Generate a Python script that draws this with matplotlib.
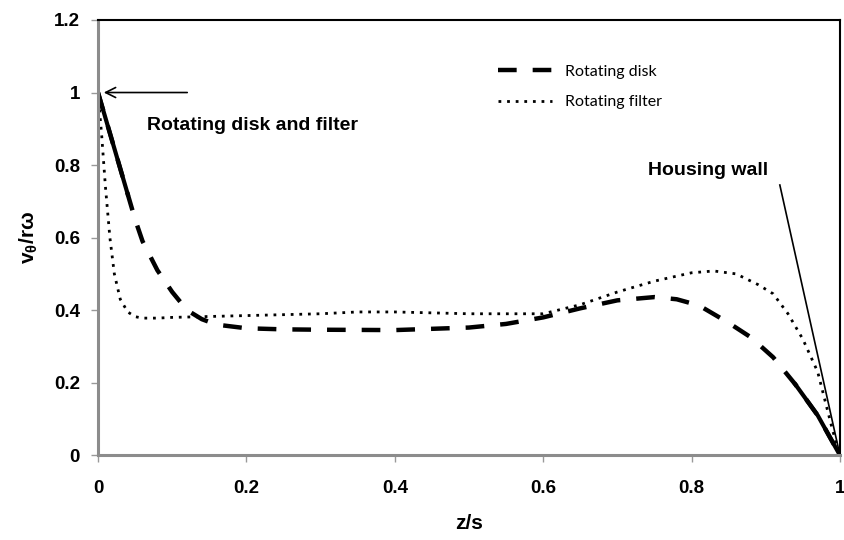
import numpy as np
import matplotlib
matplotlib.use('Agg')
import matplotlib.pyplot as plt

plt.rcParams['font.family'] = ['Liberation Sans', 'DejaVu Sans']
plt.rcParams['mathtext.default'] = 'regular'

# rotating disk (dashed)
z_disk = [0.0, 0.01, 0.02, 0.03, 0.04, 0.05, 0.06, 0.08, 0.10, 0.12, 0.14, 0.16,
          0.20, 0.25, 0.30, 0.40, 0.50, 0.55, 0.60, 0.65, 0.70, 0.75, 0.78,
          0.81, 0.85, 0.88, 0.91, 0.94, 0.97, 1.0]
v_disk = [1.0, 0.93, 0.86, 0.79, 0.72, 0.65, 0.59, 0.51, 0.45, 0.40, 0.375, 0.36,
          0.35, 0.347, 0.346, 0.345, 0.352, 0.362, 0.38, 0.405, 0.427, 0.436, 0.43,
          0.413, 0.365, 0.325, 0.27, 0.195, 0.11, 0.0]

# rotating filter (dotted)
z_filt = [0.0, 0.005, 0.01, 0.016, 0.022, 0.03, 0.04, 0.05, 0.06, 0.08, 0.10,
          0.20, 0.30, 0.35, 0.40, 0.50, 0.60, 0.65, 0.70, 0.75, 0.80, 0.83,
          0.86, 0.89, 0.91, 0.93, 0.95, 0.97, 0.99, 1.0]
v_filt = [1.0, 0.88, 0.74, 0.60, 0.50, 0.43, 0.395, 0.382, 0.378, 0.378, 0.38,
          0.385, 0.39, 0.395, 0.395, 0.39, 0.39, 0.415, 0.45, 0.48, 0.503, 0.508,
          0.5, 0.47, 0.445, 0.39, 0.32, 0.23, 0.07, 0.0]

xticks = [0, 0.2, 0.4, 0.6, 0.8, 1]
xticklabels = ['0', '0.2', '0.4', '0.6', '0.8', '1']
yticks = [0, 0.2, 0.4, 0.6, 0.8, 1.0, 1.2]
yticklabels = ['0', '0.2', '0.4', '0.6', '0.8', '1', '1.2']

fig = plt.figure(figsize=(8.45, 5.4), dpi=100)
ax = fig.add_axes([0.116, 0.157, 0.878, 0.806])

ax.plot(z_disk, v_disk, color='black', lw=3.2, linestyle=(0, (4.2, 3.6)),
        dash_capstyle='butt', label='Rotating disk')
# the ends of the disk curve look solid in the original
ax.plot(z_disk[:5], v_disk[:5], color='black', lw=3.0)
ax.plot(z_disk[-3:], v_disk[-3:], color='black', lw=3.0)
ax.plot(z_filt, v_filt, color='black', lw=2.0, linestyle=(0, (1, 2.1)),
        label='Rotating filter')

ax.set_xlim(0, 1)
ax.set_ylim(0, 1.2)
ax.set_xticks(xticks)
ax.set_xticklabels(xticklabels)
ax.set_yticks(yticks)
ax.set_yticklabels(yticklabels)
for lab in ax.get_xticklabels() + ax.get_yticklabels():
    lab.set_fontweight('bold')
    lab.set_fontsize(13.5)
ax.tick_params(axis='x', length=5, width=1, color='#999999', pad=13)
ax.tick_params(axis='y', length=5, width=1, color='#999999', pad=8)

for side in ['left', 'bottom']:
    ax.spines[side].set_color('#8c8c8c')
    ax.spines[side].set_linewidth(2.2)
for side in ['top', 'right']:
    ax.spines[side].set_color('black')
    ax.spines[side].set_linewidth(1.5)

ax.set_xlabel('z/s', fontsize=15, fontweight='bold', labelpad=12)
ax.set_ylabel(r'v$_\theta$/rω', fontsize=15, fontweight='bold', labelpad=10)

ax.annotate('', xy=(0.004, 1.0), xytext=(0.124, 1.0),
            arrowprops=dict(arrowstyle='->', color='black', lw=1.2,
                            mutation_scale=18))
ax.text(0.066, 0.91, 'Rotating disk and filter', fontsize=14,
        fontweight='bold', ha='left', va='center')

ax.plot([0.919, 1.0], [0.745, 0.0], color='black', lw=1.2)
ax.text(0.903, 0.785, 'Housing wall', fontsize=14, fontweight='bold',
        ha='right', va='center')

leg = ax.legend(loc='upper left', bbox_to_anchor=(0.52, 0.93), frameon=False,
                prop={'family': 'Lato', 'size': 11.5}, handlelength=3.4,
                labelspacing=1.0, handletextpad=0.8)

fig.savefig('out.png', dpi=100)
